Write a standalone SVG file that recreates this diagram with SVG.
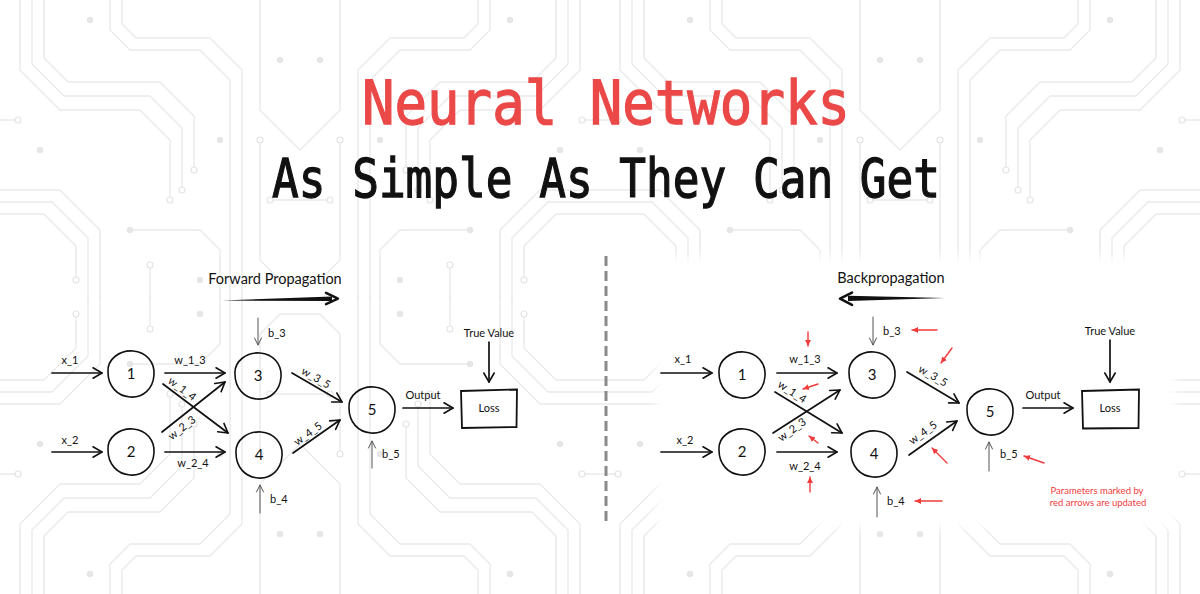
<svg xmlns="http://www.w3.org/2000/svg" xmlns:xlink="http://www.w3.org/1999/xlink" width="1200" height="594" viewBox="0 0 1200 594">
<style>
.bg{fill:none;stroke:#eaeaea;stroke-width:1.4;stroke-linejoin:round}
.dh{fill:#fff;stroke:#e4e4e4;stroke-width:1.2}
.df{fill:#e6e6e6}
.c{fill:none;stroke:#111;stroke-width:1.7;stroke-linecap:round}
.b{fill:none;stroke:#555;stroke-width:1;stroke-linecap:round}
.r{fill:none;stroke:#f03c3c;stroke-width:1.4;stroke-linecap:round}
.blob{fill:none;stroke:#111;stroke-width:1.6}
.t{font-family:Lato,"Noto Sans",sans-serif;font-size:11px;fill:#111}
.m{text-anchor:middle}
.n{font-family:Lato,"Noto Sans",sans-serif;font-size:15px;fill:#111;text-anchor:middle}
.h{font-family:Lato,"Noto Sans",sans-serif;font-size:14.5px;fill:#111;text-anchor:middle}
.rt{font-family:Lato,"Noto Sans",sans-serif;font-size:9.5px;fill:#f03c3c;text-anchor:middle}
.title{font-family:"DejaVu Sans Mono","Liberation Mono",monospace;stroke-width:1.3}
</style>
<defs>
<marker id="ah" markerWidth="14" markerHeight="14" refX="11" refY="7" orient="auto" markerUnits="userSpaceOnUse"><path d="M2,1.8 L11,7 L2,12.2" fill="none" stroke="#111" stroke-width="1.6" stroke-linecap="round" stroke-linejoin="round"/></marker>
<marker id="ahg" markerWidth="12" markerHeight="12" refX="9" refY="6" orient="auto" markerUnits="userSpaceOnUse"><path d="M2,2.5 L9,6 L2,9.5" fill="none" stroke="#555" stroke-width="1" stroke-linecap="round"/></marker>
<marker id="ahr" markerWidth="8" markerHeight="8" refX="6" refY="4" orient="auto" markerUnits="userSpaceOnUse"><path d="M0,1 L6,4 L0,7 Z" fill="#f03c3c"/></marker>
<path id="blob" d="M-23,-2 C-24,-15 -11,-24 2,-23 C15,-22 24,-12 23,1 C22,15 12,24 -1,23 C-14,22 -23,12 -23,-2 Z" class="blob"/>
<filter id="soft" x="-5%" y="-10%" width="110%" height="120%"><feGaussianBlur stdDeviation="5"/></filter>
<g id="cb">
<path class="bg" d="M20,0 V70 L60,110 H140 L170,140 V200 M32,0 V64 L64,96 H150 L182,128 V190 M44,0 V58 L68,82 H160 L194,116 V170 M110,0 V30 L130,50 H200 L230,80 V300 M122,0 V24 L136,38 H210 L242,70 V300 M260,0 V110 L300,150 M0,190 H60 L100,230 V300 M0,202 H52 L88,238 V300 M0,214 H44 L76,246 V280 M130,230 H200 L220,250 V300 M270,200 H300 M150,265 V300 M0,120 H18 M260,140 V260 L280,280 H300"/>
<circle class="dh" cx="170" cy="200" r="3"/><circle class="dh" cx="182" cy="190" r="3"/><circle class="dh" cx="194" cy="170" r="3"/><circle class="dh" cx="76" cy="280" r="3"/><circle class="dh" cx="150" cy="265" r="3"/><circle class="dh" cx="18" cy="120" r="3"/><circle class="dh" cx="260" cy="140" r="3"/><circle class="dh" cx="270" cy="200" r="3"/>
<circle class="df" cx="130" cy="230" r="3.2"/><circle class="df" cx="220" cy="140" r="3.2"/><circle class="df" cx="40" cy="150" r="3.2"/><circle class="df" cx="90" cy="20" r="3.2"/><circle class="df" cx="280" cy="60" r="3.2"/><circle class="df" cx="200" cy="280" r="3.2"/>
</g>
</defs>
<rect width="1200" height="594" fill="#fff"/>
<g id="background">
<use href="#cb"/>
<use href="#cb" transform="translate(600,0) scale(-1,1)"/>
<use href="#cb" transform="translate(600,0)"/>
<use href="#cb" transform="translate(1200,0) scale(-1,1)"/>
<use href="#cb" transform="translate(0,594) scale(1,-1)"/>
<use href="#cb" transform="translate(600,594) scale(-1,-1)"/>
<use href="#cb" transform="translate(600,594) scale(1,-1)"/>
<use href="#cb" transform="translate(1200,594) scale(-1,-1)"/>
<rect x="656" y="257" width="520" height="270" fill="#fff" filter="url(#soft)"/>
</g>
<g id="title">
<text class="title" x="362" y="124" font-size="60" fill="#eb4848" stroke="#eb4848" textLength="488" lengthAdjust="spacingAndGlyphs">Neural Networks</text>
<text class="title" x="272" y="197" font-size="54" fill="#111" stroke="#111" textLength="668" lengthAdjust="spacingAndGlyphs">As Simple As They Can Get</text>
</g>
<line id="divider" x1="606" y1="256" x2="606" y2="525" stroke="#8a8a8a" stroke-width="3" stroke-dasharray="10 5"/>

<g id="l-forward">
<text class="h" x="275" y="284">Forward Propagation</text>
<path d="M222,300.5 L332,296.4 L332,301 Z" fill="#111"/>
<path d="M326,292.8 L338,298.6 L326,304.2" fill="none" stroke="#111" stroke-width="2.4" stroke-linecap="round" stroke-linejoin="round"/>
</g>
<g id="l-n1"><use href="#blob" x="131" y="374"/><text class="n" x="131" y="379">1</text></g>
<g id="l-n2"><use href="#blob" x="131" y="452"/><text class="n" x="131" y="457">2</text></g>
<g id="l-n3"><use href="#blob" x="258" y="376"/><text class="n" x="258" y="381">3</text></g>
<g id="l-n4"><use href="#blob" x="259" y="455"/><text class="n" x="259" y="460">4</text></g>
<g id="l-n5"><use href="#blob" x="372" y="410"/><text class="n" x="372" y="415">5</text></g>
<g id="l-loss"><path d="M461,391 L517,389.5 L516.5,427 L462,428 Z" fill="none" stroke="#111" stroke-width="1.8"/><text class="t m" x="489" y="412">Loss</text></g>
<g id="l-true"><text class="t m" x="489" y="337">True Value</text></g>
<g id="l-connectors">
<path class="c" d="M52,373 H102" marker-end="url(#ah)"/>
<path class="c" d="M52,452 H102" marker-end="url(#ah)"/>
<path class="c" d="M165,373 H225" marker-end="url(#ah)"/>
<path class="c" d="M163,384 L228,433" marker-end="url(#ah)"/>
<path class="c" d="M162,432 L225,382" marker-end="url(#ah)"/>
<path class="c" d="M165,452 H225" marker-end="url(#ah)"/>
<path class="c" d="M292,373 L342,402" marker-end="url(#ah)"/>
<path class="c" d="M293,453 L340,420" marker-end="url(#ah)"/>
<path class="c" d="M403,408 H453" marker-end="url(#ah)"/>
<path class="c" d="M489,342 V382" marker-end="url(#ah)"/>
<path class="b" d="M258,318 V345" marker-end="url(#ahg)"/>
<path class="b" d="M260,513 V485" marker-end="url(#ahg)"/>
<path class="b" d="M372,468 V441" marker-end="url(#ahg)"/>
<text class="t m" x="70" y="364">x_1</text>
<text class="t m" x="70" y="444">x_2</text>
<text class="t m" x="190" y="364">w_1_3</text>
<text class="t m" x="193" y="467">w_2_4</text>
<text class="t m" transform="translate(182,389) rotate(37)" y="3.5">w_1_4</text>
<text class="t m" transform="translate(182,428) rotate(-38)" y="3.5">w_2_3</text>
<text class="t m" transform="translate(316,378) rotate(30)" y="3.5">w_3_5</text>
<text class="t m" transform="translate(308,434) rotate(-36)" y="3.5">w_4_5</text>
<text class="t" x="268" y="337">b_3</text>
<text class="t" x="270" y="503">b_4</text>
<text class="t" x="382" y="458">b_5</text>
<text class="t m" x="423" y="399">Output</text>
</g>

<g id="r-back">
<text class="h" x="891" y="283">Backpropagation</text>
<path d="M945,298 L848,295.8 L848,301 Z" fill="#111"/>
<path d="M852,292.6 L840,298.6 L852,304.8" fill="none" stroke="#111" stroke-width="2.6" stroke-linecap="round" stroke-linejoin="round"/>
</g>
<g id="r-n1"><use href="#blob" x="742" y="375"/><text class="n" x="742" y="380">1</text></g>
<g id="r-n2"><use href="#blob" x="742" y="452"/><text class="n" x="742" y="457">2</text></g>
<g id="r-n3"><use href="#blob" x="872" y="375"/><text class="n" x="872" y="380">3</text></g>
<g id="r-n4"><use href="#blob" x="874" y="454"/><text class="n" x="874" y="459">4</text></g>
<g id="r-n5"><use href="#blob" x="990" y="412"/><text class="n" x="990" y="417">5</text></g>
<g id="r-loss"><path d="M1082,391 L1139,389.5 L1138.5,428 L1083,428.5 Z" fill="none" stroke="#111" stroke-width="1.8"/><text class="t m" x="1110" y="412">Loss</text></g>
<g id="r-true"><text class="t m" x="1110" y="335">True Value</text></g>
<g id="r-note"><text class="rt" x="1097" y="494">Parameters marked by</text><text class="rt" x="1098" y="506">red arrows are updated</text></g>
<g id="r-connectors">
<path class="c" d="M661,373 H712" marker-end="url(#ah)"/>
<path class="c" d="M661,452 H712" marker-end="url(#ah)"/>
<path class="c" d="M777,373 H837" marker-end="url(#ah)"/>
<path class="c" d="M775,392 L842,433" marker-end="url(#ah)"/>
<path class="c" d="M773,433 L840,390" marker-end="url(#ah)"/>
<path class="c" d="M777,452 H837" marker-end="url(#ah)"/>
<path class="c" d="M907,372 L959,403" marker-end="url(#ah)"/>
<path class="c" d="M909,455 L957,421" marker-end="url(#ah)"/>
<path class="c" d="M1023,408 H1073" marker-end="url(#ah)"/>
<path class="c" d="M1110,340 V382" marker-end="url(#ah)"/>
<path class="b" d="M873,317 V345" marker-end="url(#ahg)"/>
<path class="b" d="M877,517 V487" marker-end="url(#ahg)"/>
<path class="b" d="M989,471 V442" marker-end="url(#ahg)"/>
<text class="t m" x="683" y="363">x_1</text>
<text class="t m" x="685" y="444">x_2</text>
<text class="t m" x="805" y="363">w_1_3</text>
<text class="t m" x="805" y="470">w_2_4</text>
<text class="t m" transform="translate(792,392) rotate(33)" y="3.5">w_1_4</text>
<text class="t m" transform="translate(792,430) rotate(-36)" y="3.5">w_2_3</text>
<text class="t m" transform="translate(933,376) rotate(30)" y="3.5">w_3_5</text>
<text class="t m" transform="translate(923,433) rotate(-36)" y="3.5">w_4_5</text>
<text class="t" x="883" y="335">b_3</text>
<text class="t" x="887" y="505">b_4</text>
<text class="t" x="1000" y="458">b_5</text>
<text class="t m" x="1043" y="399">Output</text>
</g>
<g id="r-red-arrows">
<path class="r" d="M808,332 V346" marker-end="url(#ahr)"/>
<path class="r" d="M818,384 L803,389" marker-end="url(#ahr)"/>
<path class="r" d="M818,443 L809,436" marker-end="url(#ahr)"/>
<path class="r" d="M810,492 V477" marker-end="url(#ahr)"/>
<path class="r" d="M937,330 H912" marker-end="url(#ahr)"/>
<path class="r" d="M952,348 L941,363" marker-end="url(#ahr)"/>
<path class="r" d="M947,463 L932,448" marker-end="url(#ahr)"/>
<path class="r" d="M1044,463 L1024,456" marker-end="url(#ahr)"/>
<path class="r" d="M942,501 H915" marker-end="url(#ahr)"/>
</g>
</svg>
